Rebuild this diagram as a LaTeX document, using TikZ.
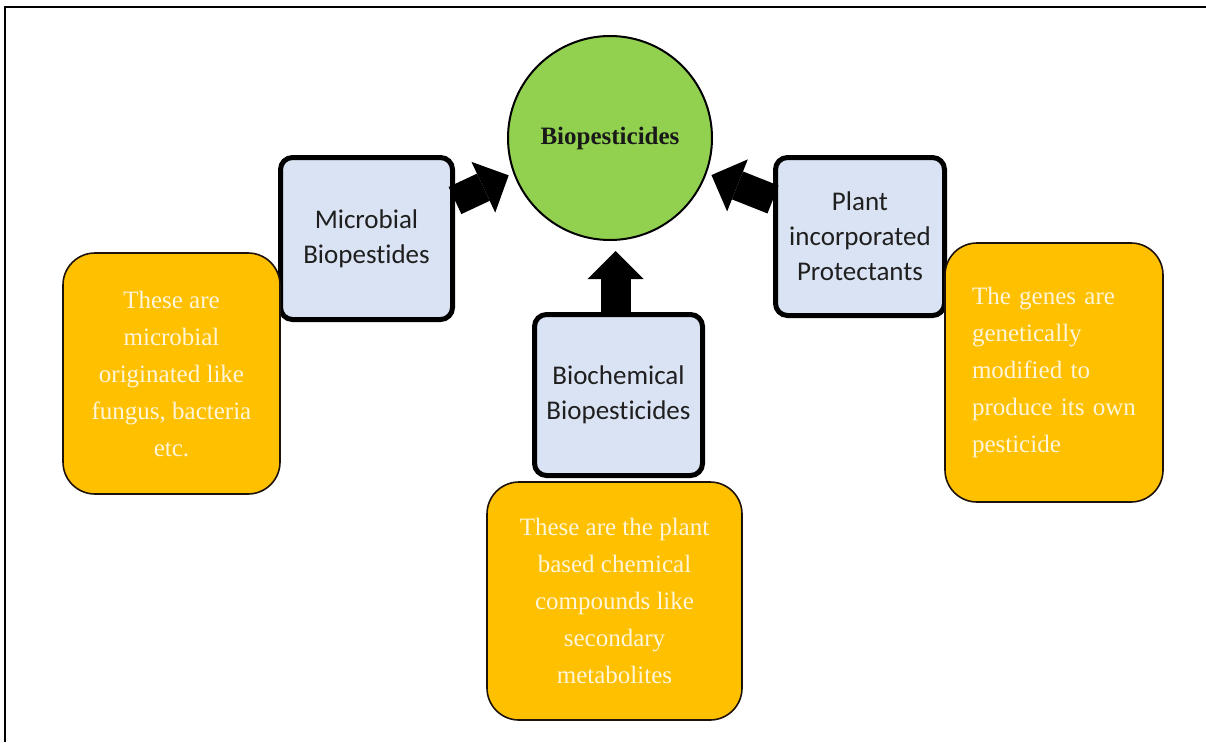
\documentclass[tikz,border=0pt]{standalone}
\usepackage{fontspec}
\usepackage{xcolor}
\usepackage{tikz}
\setmainfont{Liberation Serif}
\newfontfamily\calfont[Ligatures=NoCommon]{Carlito}
\usetikzlibrary{arrows.meta}
\definecolor{boxblue}{HTML}{DAE3F3}
\definecolor{leafgreen}{HTML}{92D050}
\definecolor{gold}{HTML}{FFC000}
\definecolor{cream}{HTML}{FFF6DA}

\begin{document}
\begin{tikzpicture}[x=1pt,y=-1pt]
      \tikzstyle{kind}=[rectangle,rounded corners=12pt,draw=black,line width=5pt,fill=boxblue,align=center,
        text=black!88,font=\calfont\fontsize{27pt}{35pt}\selectfont,inner sep=0pt]
      \tikzstyle{note}=[rectangle,rounded corners=32pt,draw=black!85!brown,line width=1.6pt,fill=gold,
        text=cream,font=\fontsize{25pt}{37pt}\selectfont,inner sep=0pt]
      \tikzstyle{fatarrow}=[line width=30pt,-{Triangle[length=28pt,width=56pt,line width=0pt]},shorten >=5pt]
      \useasboundingbox (0,0) rectangle (1206,742);
      \draw[line width=2.6pt] (5,742) -- (5,7) -- (1206,7);
      \node[circle,draw=black,line width=2pt,fill=leafgreen,minimum size=204pt,inner sep=0pt,
        font=\bfseries\fontsize{25pt}{30pt}\selectfont,text=black!90] (bio) at (610,138) {Biopesticides};
      \node[kind,minimum width=172pt,minimum height=162pt] (micro) at (366.5,238.5) {Microbial\\Biopestides};
      \node[kind,minimum width=169pt,minimum height=158pt] (plant) at (860,236.5) {Plant\\incorporated\\Protectants};
      \node[kind,minimum width=168pt,minimum height=161pt] (chem) at (618.5,395) {Biochemical\\Biopesticides};
      \node[note,align=center,minimum width=217pt,minimum height=241pt] (micronote) at (171.5,373.5)
        {These are\\microbial\\originated like\\fungus, bacteria\\etc.};
      \node[note,align=center,minimum width=255pt,minimum height=238pt] (chemnote) at (614.5,601)
        {These are the plant\\based chemical\\compounds like\\secondary\\metabolites};
      \node[note,align=left,text width=164pt,inner xsep=27pt,minimum height=259pt] (plantnote) at (1054,372.5)
        {The genes are\\genetically\\modified to\\produce its own\\pesticide};
      \draw[fatarrow] ([yshift=38pt]micro.east) -- (bio.200);
      \draw[fatarrow] ([yshift=37pt]plant.west) -- (bio.340);
      \draw[fatarrow,shorten >=10pt] ([xshift=-3pt]chem.north) -- ([xshift=-3pt]chem.north |- bio.south);
    \end{tikzpicture}
\end{document}
